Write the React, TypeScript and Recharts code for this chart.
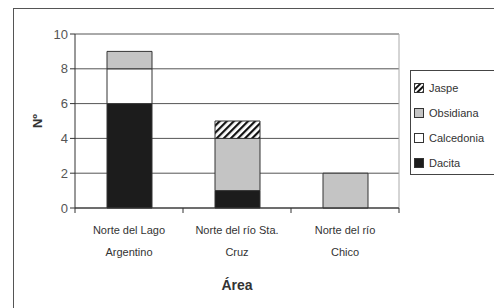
import React from 'react';
import {
  BarChart, Bar, XAxis, YAxis, CartesianGrid, ReferenceLine, Label
} from 'recharts';

const areasTop = ['Norte del Lago', 'Norte del río Sta.', 'Norte del río'];
const areasBottom = ['Argentino', 'Cruz', 'Chico'];
const dacita = [6, 1, 0];
const calcedonia = [2, 0, 0];
const obsidiana = [1, 3, 2];
const jaspe = [0, 1, 0];
const yTicks = [0, 2, 4, 6, 8, 10];

const data = areasTop.map((a, i) => ({
  area: a,
  bottom: areasBottom[i],
  Dacita: dacita[i],
  Calcedonia: calcedonia[i],
  Obsidiana: obsidiana[i],
  Jaspe: jaspe[i],
}));

const font = 'Arial, "Liberation Sans", sans-serif';

const AreaTick = ({ x, y, payload, index }: any) => {
  const half = 54;
  return (
    <g>
      {index === 0 && <line x1={x - half} y1={y - 8} x2={x - half} y2={y - 3} stroke="#333" />}
      <line x1={x + half} y1={y - 8} x2={x + half} y2={y - 3} stroke="#333" />
      <text x={x} y={y + 18} textAnchor="middle" fontSize={11} fill="#333" fontFamily={font}>
        {payload.value}
      </text>
      <text x={x} y={y + 40} textAnchor="middle" fontSize={11} fill="#333" fontFamily={font}>
        {data[index] ? data[index].bottom : ''}
      </text>
    </g>
  );
};

const legendItems = [
  { name: 'Jaspe', fill: 'url(#lg-hatch)' },
  { name: 'Obsidiana', fill: '#c4c4c4' },
  { name: 'Calcedonia', fill: '#ffffff' },
  { name: 'Dacita', fill: '#1c1c1c' },
];

const ChartLegend = () => (
  <div style={{ position: 'absolute', left: 410, top: 70, border: '1px solid #444', width: 100, height: 105, boxSizing: 'border-box', background: '#fff', fontFamily: font, fontSize: 11, color: '#333', paddingTop: 4 }}>
    {legendItems.map((it) => (
      <div key={it.name} style={{ display: 'flex', alignItems: 'center', height: 25, paddingLeft: 3 }}>
        <svg width={10} height={10} style={{ marginRight: 5 }}>
          <defs>
            <pattern id="lg-hatch" patternUnits="userSpaceOnUse" width="4" height="4" patternTransform="rotate(45)">
              <rect width="4" height="4" fill="#fff" />
              <rect width="2" height="4" fill="#111" />
            </pattern>
          </defs>
          <rect x={0.5} y={0.5} width={9} height={9} fill={it.fill} stroke="#333" />
        </svg>
        <span>{it.name}</span>
      </div>
    ))}
  </div>
);

export default function App() {
  return (
    <div style={{ position: 'absolute', left: 0, top: 0, width: 494, height: 308, background: '#fff', overflow: 'hidden' }}>
      <div style={{ position: 'absolute', left: 13, top: 8, width: 500, height: 320, border: '1px solid #555' }} />
      <div style={{ position: 'absolute', left: 0, top: 0 }}>
        <BarChart width={494} height={308} data={data} margin={{ top: 34, right: 95, left: 35, bottom: 40 }} barSize={45}>
          <defs>
            <pattern id="hatch-jaspe" patternUnits="userSpaceOnUse" width="5" height="5" patternTransform="rotate(45)">
              <rect width="5" height="5" fill="#fff" />
              <rect width="2.2" height="5" fill="#111" />
            </pattern>
          </defs>
          <CartesianGrid vertical={false} stroke="#555" strokeWidth={1} />
          <CartesianGrid
            horizontal={false}
            stroke="#aaa"
            verticalCoordinatesGenerator={({ offset }: any) => [offset.left + offset.width]}
          />
          <ReferenceLine y={10} stroke="#aaa" />
          <XAxis
            dataKey="area"
            height={60}
            tick={<AreaTick />}
            tickLine={false}
            axisLine={{ stroke: '#333' }}
            interval={0}
          >
            <Label
              content={({ viewBox }: any) => (
                <text x={viewBox.x + viewBox.width / 2} y={viewBox.y + viewBox.height + 22} textAnchor="middle" fontSize={14} fontWeight="bold" fill="#333" fontFamily={font}>
                  Área
                </text>
              )}
            />
          </XAxis>
          <YAxis
            width={40}
            domain={[0, 10]}
            ticks={yTicks}
            tick={{ fontSize: 13, fill: '#555', fontFamily: font }}
            tickLine={{ stroke: '#333' }}
            tickSize={5}
            axisLine={{ stroke: '#333' }}
          >
            <Label
              content={({ viewBox }: any) => (
                <text x={viewBox.x + 2} y={viewBox.y + viewBox.height / 2} textAnchor="middle" fontSize={13} fontWeight="bold" fill="#333" fontFamily={font} transform={`rotate(-90, ${viewBox.x + 2}, ${viewBox.y + viewBox.height / 2})`} dominantBaseline="central">
                  Nº
                </text>
              )}
            />
          </YAxis>
          <Bar dataKey="Dacita" stackId="s" fill="#1c1c1c" stroke="#333" isAnimationActive={false} />
          <Bar dataKey="Calcedonia" stackId="s" fill="#ffffff" stroke="#333" isAnimationActive={false} />
          <Bar dataKey="Obsidiana" stackId="s" fill="#c4c4c4" stroke="#333" isAnimationActive={false} />
          <Bar dataKey="Jaspe" stackId="s" fill="url(#hatch-jaspe)" stroke="#333" isAnimationActive={false} />
        </BarChart>
      </div>
      <ChartLegend />
    </div>
  );
}
